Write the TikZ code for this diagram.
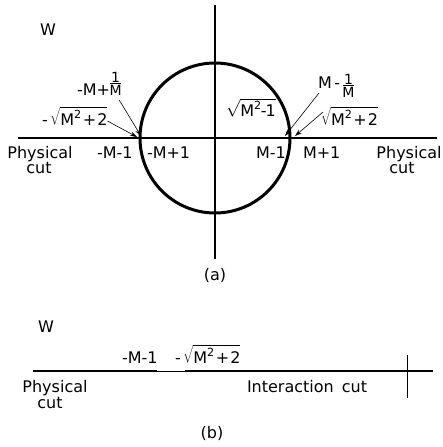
\documentclass[tikz,border=0pt]{standalone}
\usepackage{fontspec}
\setmainfont{DejaVu Sans}
\usetikzlibrary{arrows.meta,calc}
\newcommand\stackfr[2]{\vbox{\fontsize{14}{14}\selectfont\hbox to 0.8em{\hss#1\hss}\kern0.8pt\hrule height 0.7pt\kern1.2pt\hbox to 0.8em{\hss#2\hss}}}
\newcommand\bigsq[1]{$\sqrt{\rule{0pt}{17pt}\mbox{#1}}$}
\newcommand\smsq[1]{$\sqrt{\mbox{#1}}$}
\begin{document}
\begin{tikzpicture}[x=1pt,y=-1pt,
  lbl/.style={inner sep=0pt,outer sep=0pt,font=\fontsize{16}{16}\selectfont},
  circ/.style={line width=3pt},
  cutline/.style={line width=2.8pt},
  inaxis/.style={line width=1.8pt},
  vaxis/.style={line width=1.4pt},
  thinline/.style={line width=0.8pt},
  arr/.style={line width=0.6pt,-{Stealth[length=7pt,width=4.5pt]}}]
\useasboundingbox (0,0) rectangle (442,447);
% ---------- (a) ----------
\coordinate (O) at (215,138);
\coordinate (v1) at (215,5);
\coordinate (v2) at (215,259);
\coordinate (h1) at (18,138);
\coordinate (cL) at (140,138);
\coordinate (cR) at (290,138);
\coordinate (h2) at (437,138);
\draw[vaxis] (v1) -- (v2);
\draw[cutline] (h1) -- (cL);
\draw[inaxis] (cL) -- (cR);
\draw[cutline] (cR) -- (h2);
\draw[circ] (O) circle[radius=75pt];

\node[lbl,anchor=base west] (Wa) at (40,35) {W};
\node[lbl,anchor=base west] (lfrac) at (77,95) {-M+\stackfr{1}{M}};
\node[lbl,anchor=base west] (lsq) at (42,125) {-\,\bigsq{M\textsuperscript{2}\kern1pt+\kern1pt2}};
\node[lbl,anchor=base] (physL) at (40,158) {Physical};
\node[lbl,anchor=base] (cutL) at (39,173) {cut};
\node[lbl,anchor=base west] (mm1) at (97,158) {-M-1};
\node[lbl,anchor=base west] (mp1) at (147,158) {-M+1};
\node[lbl,anchor=base west] (pm1) at (256,158) {M-1};
\node[lbl,anchor=base west] (pp1) at (303,158) {M+1};
\node[lbl,anchor=base] (physR) at (409,158) {Physical};
\node[lbl,anchor=base] (cutR) at (402,173) {cut};
\node[lbl,anchor=base west] (rfrac) at (318,88) {M\,-\,\raisebox{-9pt}{\stackfr{1}{M}}};
\node[lbl,anchor=base west] (rsq) at (321,125) {\bigsq{M\textsuperscript{2}\kern1pt+\kern1pt2}};
\node[lbl,anchor=base west] (isq) at (226,116) {\smsq{M\textsuperscript{2}\kern-1pt-\kern-1pt1}};
\node[lbl,anchor=base] (la) at (215,280) {(a)};

\coordinate (aL1) at (141,136);
\coordinate (aL2) at (137,137);
\coordinate (aR1) at (285,136);
\coordinate (aR2) at (295,136);
\draw[arr] ($(lfrac.base east)+(-2,5)$) -- (aL1);
\draw[arr] ($(lsq.base east)+(0,-4)$) -- (aL2);
\draw[arr] ($(rfrac.base west)+(1,5)$) -- (aR1);
\draw[arr] ($(rsq.base west)+(2,-13)$) -- (aR2);

% ---------- (b) ----------
\coordinate (b1) at (33,371);
\coordinate (b2) at (157,371);
\coordinate (b3) at (185,371);
\coordinate (b4) at (433,371);
\coordinate (t1) at (407,355);
\coordinate (t2) at (407,398);
\draw[cutline] (b1) -- (b2);
\draw[thinline] (b2) -- (b3);
\draw[cutline] (b3) -- (b4);
\draw[thinline] (t1) -- (t2);
\node[lbl,anchor=base west] (Wb) at (38,332) {W};
\node[lbl,anchor=base west] (bmm1) at (122,363) {-M-1};
\node[lbl,anchor=base west] (bsq) at (175,363) {-\,\bigsq{M\textsuperscript{2}\kern1pt+\kern1pt2}};
\node[lbl,anchor=base] (physB) at (55,392) {Physical};
\node[lbl,anchor=base] (cutB) at (50,408) {cut};
\node[lbl,anchor=base west] (inter) at (247,392) {Interaction\hspace{8pt}cut};
\node[lbl,anchor=base] (lb) at (212,438) {(b)};
\end{tikzpicture}
\end{document}
